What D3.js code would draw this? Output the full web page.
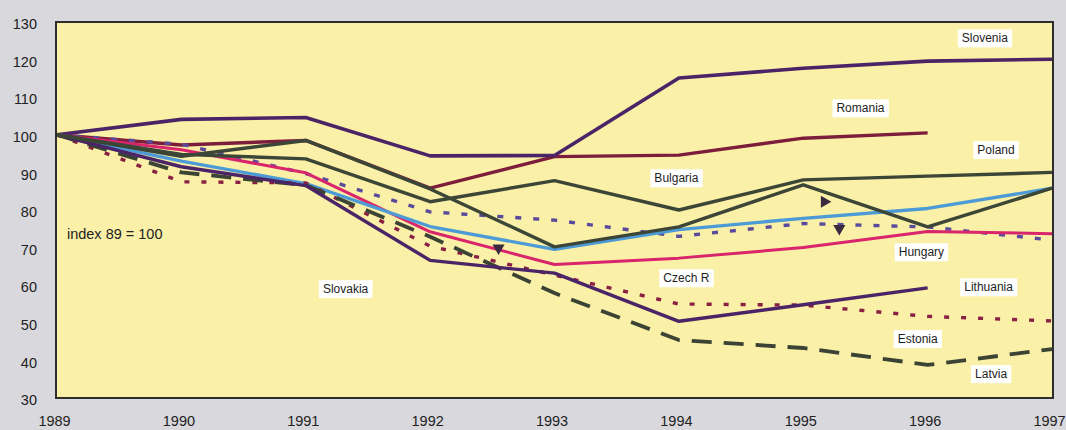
<!DOCTYPE html>
<html>
<head>
<meta charset="utf-8">
<script src="https://cdn.jsdelivr.net/npm/d3@7"></script>
<style>
  html, body { margin: 0; padding: 0; background: #d8d8dc; }
  svg { display: block; font-family: "Liberation Sans", Arial, sans-serif; }
</style>
</head>
<body>
<div id="chart"></div>
<script>
// index 1989 = 100
const years = [1989, 1990, 1991, 1992, 1993, 1994, 1995, 1996, 1997];
const yTicks = [30, 40, 50, 60, 70, 80, 90, 100, 110, 120, 130];

const slovenia  = [100, 104.1, 104.6, 94.4, 94.5, 115.1, 117.7, 119.6, 120.1];
const romania   = [100, 97.3, 98.5, 85.8, 94.2, 94.6, 99.1, 100.5, null];
const poland    = [100, 94.8, 93.6, 82.2, 87.8, 80.0, 88.0, 89.0, 90.0];
const bulgaria  = [100, 94.3, 98.5, 85.6, 70.2, 75.5, 86.7, 75.5, 85.8];
const hungary   = [100, 93.0, 87.0, 75.6, 69.5, 74.8, 77.8, 80.4, 85.8];
const czechR    = [100, 96.0, 89.9, 74.2, 65.5, 67.2, 70.0, 74.3, 73.7];
const slovakia  = [100, 97.5, 89.7, 79.5, 77.3, 73.0, 76.4, 75.5, 72.0];
const estonia   = [100, 87.5, 87.2, 70.4, 62.7, 55.0, 54.7, 51.7, 50.5];
const latvia    = [100, 90.0, 86.6, 72.9, 57.9, 45.4, 43.3, 38.8, 43.0];
const lithuania = [100, 91.5, 86.5, 66.6, 63.2, 50.4, 54.8, 59.3, null];

// label tags and pointer triangles, in chart units
const labelNames  = ['Slovenia', 'Romania', 'Poland', 'Bulgaria', 'Hungary', 'Czech R', 'Lithuania', 'Estonia', 'Latvia', 'Slovakia'];
const labelYears  = [1996.46, 1995.46, 1996.55, 1993.98, 1995.95, 1994.06, 1996.49, 1995.92, 1996.51, 1991.32];
const labelValues = [125.7, 107.1, 96.0, 88.5, 68.8, 61.9, 59.5, 45.7, 36.4, 59.0];

const arrowYears  = [1992.55, 1995.17, 1995.29];
const arrowValues = [69.9, 82.2, 75.1];
const arrowDirs   = ['down', 'right', 'down'];

const series = [
  { name: 'Romania', values: romania, color: '#7c1d3c', width: 3.4, dash: null },
  { name: 'Slovenia', values: slovenia, color: '#4a2466', width: 3.6, dash: null },
  { name: 'Slovakia', values: slovakia, color: '#5a4a9c', width: 3.4, dash: '6,12' },
  { name: 'Czech R', values: czechR, color: '#d9256c', width: 3, dash: null },
  { name: 'Hungary', values: hungary, color: '#4d9bd6', width: 3.3, dash: null },
  { name: 'Estonia', values: estonia, color: '#8a1f44', width: 3.4, dash: '5,12' },
  { name: 'Latvia', values: latvia, color: '#3b4334', width: 3.8, dash: '20,12' },
  { name: 'Lithuania', values: lithuania, color: '#4a2466', width: 3.4, dash: null },
  { name: 'Bulgaria', values: bulgaria, color: '#3c4637', width: 3.4, dash: null },
  { name: 'Poland', values: poland, color: '#3c4637', width: 3.4, dash: null }
];

const W = 1066, H = 430;
const plot = { left: 56, top: 22, right: 1053, bottom: 398 };

const svg = d3.select('#chart')
  .append('svg')
    .attr('width', W)
    .attr('height', H);

svg.append('rect')
  .attr('width', W)
  .attr('height', H)
  .attr('fill', '#d9d9dd');

const x = d3.scaleLinear()
  .domain([1989, 1997])
  .range([57, 1052]);

const y = d3.scaleLinear()
  .domain([30, 130])
  .range([plot.bottom, plot.top]);

svg.append('rect')
  .attr('x', plot.left)
  .attr('y', plot.top)
  .attr('width', plot.right - plot.left)
  .attr('height', plot.bottom - plot.top)
  .attr('fill', '#faf0a7');

// axes
const yAxis = svg.append('g')
  .attr('transform', 'translate(' + plot.left + ',2)')
  .call(d3.axisLeft(y).tickValues(yTicks).tickSize(0).tickPadding(19));
yAxis.select('.domain').remove();
yAxis.selectAll('text')
  .attr('fill', '#222')
  .style('font-size', '14.5px');

const xAxis = svg.append('g')
  .attr('transform', 'translate(-3,' + plot.bottom + ')')
  .call(d3.axisBottom(x).tickValues(years).tickFormat(d3.format('d')).tickSize(0).tickPadding(18));
xAxis.select('.domain').remove();
xAxis.selectAll('text')
  .attr('fill', '#222')
  .style('font-size', '14.5px');

// lines
const line = d3.line()
  .defined(function(d) { return d != null; })
  .x(function(d, i) { return x(years[i]); })
  .y(function(d) { return y(d); });

svg.selectAll('.series')
  .data(series)
  .enter()
  .append('path')
    .attr('class', 'series')
    .attr('d', function(d) { return line(d.values); })
    .attr('fill', 'none')
    .attr('stroke', function(d) { return d.color; })
    .attr('stroke-width', function(d) { return d.width; })
    .attr('stroke-dasharray', function(d) { return d.dash; })
    .attr('stroke-linejoin', 'round');

// pointer triangles
const tri = d3.symbol().type(d3.symbolTriangle).size(64);
svg.selectAll('.arrow')
  .data(arrowYears)
  .enter()
  .append('path')
    .attr('class', 'arrow')
    .attr('d', tri())
    .attr('fill', '#3a2a3e')
    .attr('transform', function(d, i) {
      const rot = arrowDirs[i] === 'down' ? 180 : 90;
      return 'translate(' + x(d) + ',' + y(arrowValues[i]) + ') rotate(' + rot + ')';
    });

// label tags
const tags = svg.selectAll('.tag')
  .data(labelNames)
  .enter()
  .append('g')
    .attr('class', 'tag')
    .attr('transform', function(d, i) {
      return 'translate(' + x(labelYears[i]) + ',' + y(labelValues[i]) + ')';
    });

tags.append('text')
  .attr('text-anchor', 'middle')
  .attr('dy', '0.35em')
  .attr('fill', '#1e1e1e')
  .style('font-size', '12px')
  .text(function(d) { return d; });

tags.each(function() {
  const g = d3.select(this);
  const bb = g.select('text').node().getBBox();
  g.insert('rect', 'text')
    .attr('x', bb.x - 4)
    .attr('y', bb.y - 2)
    .attr('width', bb.width + 8)
    .attr('height', bb.height + 4)
    .attr('fill', '#ffffff');
});

svg.append('text')
  .attr('x', x(1989.08))
  .attr('y', y(72.3))
  .attr('fill', '#222')
  .style('font-size', '14.5px')
  .text('index 89 = 100');

// frame
svg.append('rect')
  .attr('x', plot.left)
  .attr('y', plot.top)
  .attr('width', plot.right - plot.left)
  .attr('height', plot.bottom - plot.top)
  .attr('fill', 'none')
  .attr('stroke', '#2e2e2e')
  .attr('stroke-width', 2);
</script>
</body>
</html>
